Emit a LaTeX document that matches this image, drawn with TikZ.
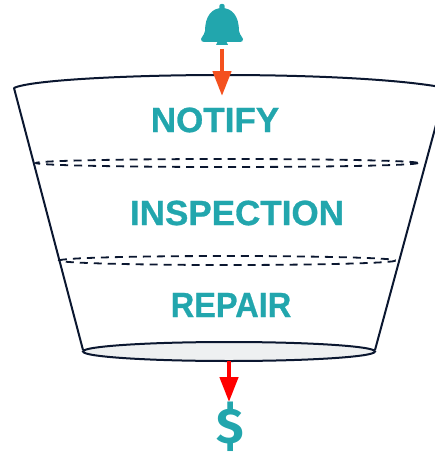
\documentclass[tikz,border=0pt]{standalone}
\usepackage{fontspec}
\setmainfont{Liberation Sans}[BoldFeatures={FakeBold=0.8}]
\newfontfamily\dollarfont{Fira Sans}
\usetikzlibrary{arrows.meta}
\definecolor{tealc}{HTML}{22A6AD}
\definecolor{inkc}{HTML}{0B1730}
\definecolor{greyc}{HTML}{EEF0F1}
\definecolor{orangec}{HTML}{F4511E}
\tikzset{
  stagelabel/.style={text=tealc,font=\fontsize{35}{35}\selectfont\bfseries,inner sep=0pt},
  rim/.style={draw=inkc,line width=2pt},
  dashrim/.style={draw=inkc,line width=1.8pt,dash pattern=on 8pt off 6pt},
  flow/.style={line width=4.5pt}
}
\begin{document}
\begin{tikzpicture}[x=1pt,y=-1pt]
\useasboundingbox (0,0) rectangle (435,452);
\clip (0,0) rectangle (435,452);
% funnel
\draw[rim,line join=round] (83,350) -- (14,88) .. controls (30,80) and (130,75) .. (222,75) .. controls (310,75) and (400,79) .. (446,88) -- (375,350);
\draw[dashrim] (227,163) ellipse [x radius=191,y radius=4];
\draw[dashrim] (227.5,260.5) ellipse [x radius=168,y radius=4.5];
\draw[rim,fill=greyc] (229,351.5) ellipse [x radius=146,y radius=9.5];
\coordinate (base) at (229,361);
% bell
\fill[tealc,rounded corners=2pt] (219.3,4) rectangle (224.7,12);
\fill[tealc] (201,39) .. controls (201,37) and (204,36) .. (205,31)
  .. controls (205,16) and (212,8) .. (222,8)
  .. controls (232,8) and (239,16) .. (239,31)
  .. controls (240,36) and (243,37) .. (243,39)
  .. controls (243,41) and (242,42) .. (240,42) -- (204,42)
  .. controls (202,42) and (201,41) .. (201,39) -- cycle;
\fill[tealc] (216,45) -- (228,45) arc [start angle=0,end angle=-180,x radius=6,y radius=5] -- cycle;
\coordinate (bell) at (222,49);
\coordinate (bellTip) at (222,96);
\draw[flow,draw=orangec,-{Triangle[width=18pt,length=25pt,fill=orangec]}] (bell) -- (bellTip);
% labels
\node[stagelabel] (notify) at (215,120) {NOTIFY};
\node[stagelabel] (inspection) at (237,213) {INSPECTION};
\node[stagelabel,xscale=0.93] (repair) at (231,305) {REPAIR};
\node[text=tealc,font=\dollarfont\fontsize{50}{50}\selectfont\bfseries,inner sep=0pt,anchor=center] (dollar) at (230,427) {\$};
\coordinate (dollarTip) at (229,402);
\draw[flow,draw=red,-{Triangle[width=18pt,length=25pt,fill=red]}] (base) -- (dollarTip);
\end{tikzpicture}
\end{document}
